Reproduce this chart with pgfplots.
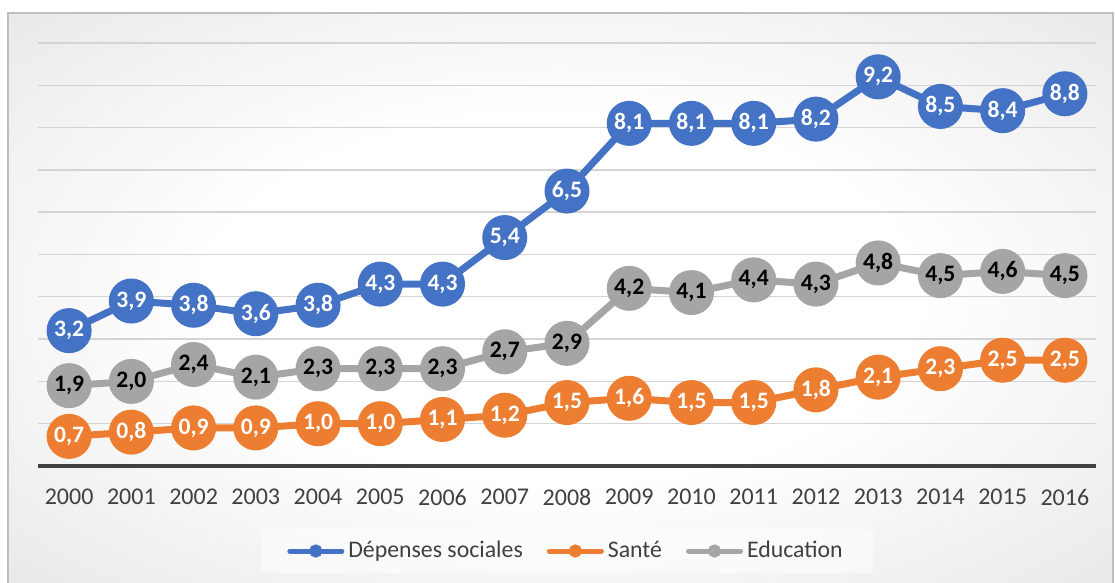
\documentclass[border=0pt]{standalone}
\usepackage{pgfplots}
\pgfplotsset{compat=1.18}
\usepackage{fontspec}
\setmainfont{Carlito}
\definecolor{cblue}{HTML}{4472C4}
\definecolor{corange}{HTML}{ED7D31}
\definecolor{cgray}{HTML}{A5A5A5}
\definecolor{ctick}{HTML}{404040}
\pgfdeclareradialshading{bgshade}{\pgfpoint{0bp}{0bp}}{color(0bp)=(white); color(16bp)=(white); color(50bp)=(white!85!black); color(72bp)=(white!76!black)}
\begin{document}
\begin{tikzpicture}
\useasboundingbox (-19pt,-58.5pt) rectangle (538.5pt,233pt);
\fill[white] (-19pt,-58.5pt) rectangle (538.5pt,233pt);
\shade[shading=bgshade] (-15pt,-58.5pt) rectangle (537.5pt,226.5pt);
\draw[white!75!black, line width=0.8pt] (-15pt,-58.5pt) -- (-15pt,226.5pt) -- (537.5pt,226.5pt) -- (537.5pt,-58.5pt);
\begin{axis}[
  scale only axis, width=529pt, height=211.5pt,
  at={(0,0)}, anchor=south west,
  xmin=-0.5, xmax=16.5, ymin=0, ymax=10,
  xtick={0,...,16},
  xticklabels={2000,2001,2002,2003,2004,2005,2006,2007,2008,2009,2010,2011,2012,2013,2014,2015,2016},
  ytick={1,...,10}, yticklabels={},
  ymajorgrids, grid style={white!83!black, line width=0.7pt},
  axis x line*=bottom, axis y line*=left,
  separate axis lines,
  x axis line style={-, ctick, line width=2pt},
  y axis line style={draw=none},
  major tick length=0pt,
  xticklabel style={font=\fontsize{12}{14}\selectfont, text=ctick, yshift=-8pt},
  nodes near coords={\pgfmathprintnumber[fixed,fixed zerofill,precision=1,use comma,assume math mode=true]{\pgfplotspointmeta}},
  every node near coord/.append style={anchor=center, inner sep=0pt, font=\bfseries\fontsize{11.8}{13}\selectfont},
  legend columns=3,
  legend style={at={(0.5,-0.201)}, anchor=center, draw=none, fill=white, fill opacity=0.5, text opacity=1,
    font=\fontsize{11.9}{13}\selectfont, text=ctick, inner xsep=13pt, inner ysep=4pt,
    /tikz/every even column/.append style={column sep=10pt}},
  legend image code/.code={\draw[#1, line width=2.5pt, line cap=round, mark size=2pt, mark repeat=2, mark phase=2] plot coordinates {(1.25pt,0pt) (14.25pt,0pt) (27.25pt,0pt)};},
]
\addplot[color=cblue, line width=3.5pt, mark=*, mark size=9.5pt, every node near coord/.append style={text=white}]
 coordinates {(0,3.2) (1,3.9) (2,3.8) (3,3.6) (4,3.8) (5,4.3) (6,4.3) (7,5.4) (8,6.5) (9,8.1) (10,8.1) (11,8.1) (12,8.2) (13,9.2) (14,8.5) (15,8.4) (16,8.8)};
\addlegendentry{Dépenses sociales}
\addplot[color=corange, line width=3.5pt, mark=*, mark size=9.5pt, every node near coord/.append style={text=white}]
 coordinates {(0,0.7) (1,0.8) (2,0.9) (3,0.9) (4,1.0) (5,1.0) (6,1.1) (7,1.2) (8,1.5) (9,1.6) (10,1.5) (11,1.5) (12,1.8) (13,2.1) (14,2.3) (15,2.5) (16,2.5)};
\addlegendentry{Santé}
\addplot[color=cgray, line width=3.5pt, mark=*, mark size=9.5pt, every node near coord/.append style={text=black}]
 coordinates {(0,1.9) (1,2.0) (2,2.4) (3,2.1) (4,2.3) (5,2.3) (6,2.3) (7,2.7) (8,2.9) (9,4.2) (10,4.1) (11,4.4) (12,4.3) (13,4.8) (14,4.5) (15,4.6) (16,4.5)};
\addlegendentry{Education}
\end{axis}
\end{tikzpicture}
\end{document}
